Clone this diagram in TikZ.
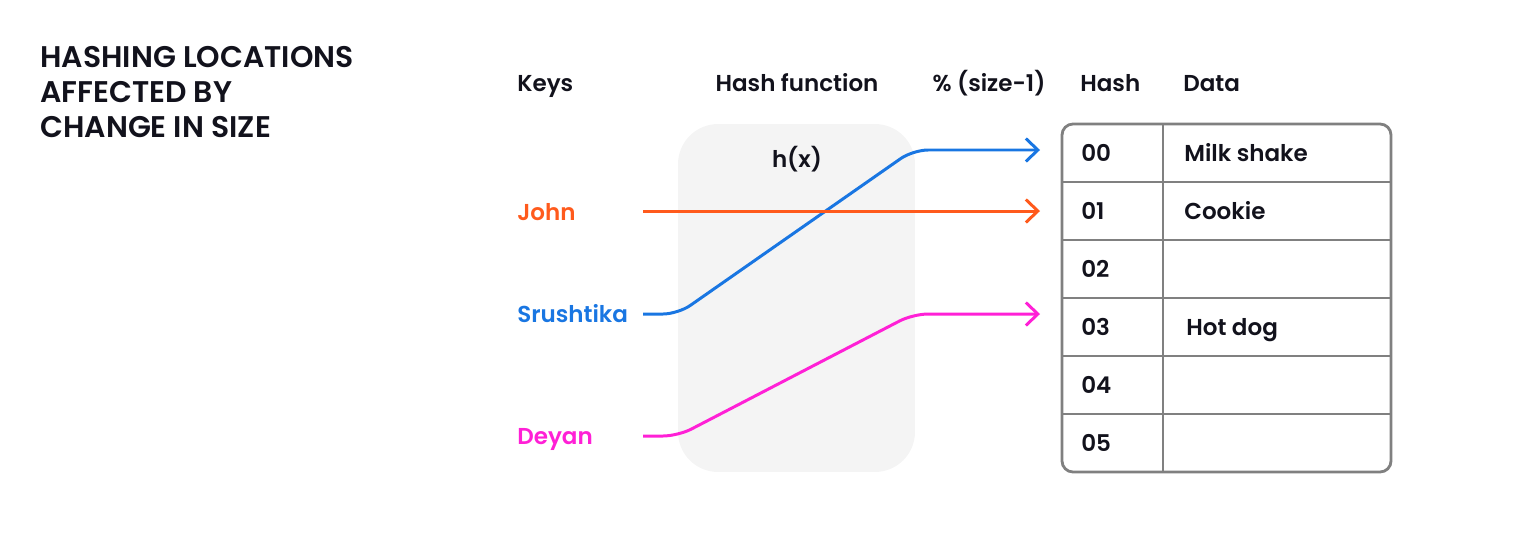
\documentclass[tikz,border=0pt]{standalone}
\usepackage{fontspec}
\setmainfont{Poppins SemiBold}
\newfontfamily\titlefont{Poppins SemiBold}
\usetikzlibrary{arrows.meta}
\definecolor{ink}{HTML}{12121C}
\definecolor{korange}{HTML}{FF5A1C}
\definecolor{kblue}{HTML}{1976E2}
\definecolor{kpink}{HTML}{FF20D6}
\definecolor{boxgray}{HTML}{F4F4F4}
\definecolor{tgray}{HTML}{808080}
\tikzset{
  lbl/.style={inner sep=0pt, anchor=base west, text=ink, font=\fontsize{13.1pt}{16pt}\selectfont},
  keylbl/.style={lbl},
  title/.style={inner sep=0pt, anchor=base west, text=ink, font=\titlefont\fontsize{17pt}{19.8pt}\selectfont, align=left},
  conn/.style={line width=1.7pt, rounded corners=0.3cm, -{Straight Barb[length=0.24cm,width=0.46cm,line width=1.7pt]}},
}
\begin{document}
\begin{tikzpicture}[x=0.02cm,y=-0.02cm]
\useasboundingbox (0,0) rectangle (1520,545);
% title
\node[title] (t1) at (40,67) {HASHING LOCATIONS};
\node[title] (t2) at (40,102) {AFFECTED BY};
\node[title] (t3) at (40,137) {CHANGE IN SIZE};
% headers
\node[lbl] (hkeys) at (517,91) {Keys};
\node[lbl,anchor=base] (hfun) at (797,91) {Hash function};
\node[lbl,anchor=base] (hmod) at (989,91) {\% (size-1)};
\node[lbl] (hhash) at (1080,91) {Hash};
\node[lbl] (hdata) at (1183,91) {Data};
% hash function box
\node[fill=boxgray, rounded corners=0.8cm, minimum width=4.74cm, minimum height=6.96cm, inner sep=0pt] (hf) at (796.5,298) {};
\node[lbl,anchor=base] (hx) at (797,167) {h(x)};
% keys
\node[keylbl, text=korange] (john) at (517,220) {John};
\node[keylbl, text=kblue] (srush) at (517,322) {Srushtika};
\node[keylbl, text=kpink] (deyan) at (517,444) {Deyan};
% table
\draw[tgray, line width=1.6pt, rounded corners=0.22cm] (1062,124) rectangle (1391,472);
\foreach \y in {182,240,298,356,414} \draw[tgray, line width=1.6pt] (1062,\y) -- (1391,\y);
\draw[tgray, line width=1.6pt] (1163,124) -- (1163,472);
\foreach \i/\y in {0/153,1/211,2/269,3/327,4/385,5/443}
  \node[lbl] (h\i) at (1081,\y+8.5) {0\i};
\node[lbl] (d0) at (1184,161.5) {Milk shake};
\node[lbl] (d1) at (1184,219.5) {Cookie};
\node[lbl] (d3) at (1186,335.5) {Hot dog};
% connector coordinates
\coordinate (jS) at (643,211);
\coordinate (sS) at (643,314);
\coordinate (dS) at (643,436);
\coordinate (e0) at (1040,150);
\coordinate (e1) at (1040,211);
\coordinate (e3) at (1040,314);
% connectors
\draw[conn, kblue] (sS) -- (678,314) -- (913,150) -- (e0);
\draw[conn, kpink] (dS) -- (678,436) -- (913,314) -- (e3);
\draw[conn, korange] (jS) -- (e1);
\end{tikzpicture}
\end{document}
